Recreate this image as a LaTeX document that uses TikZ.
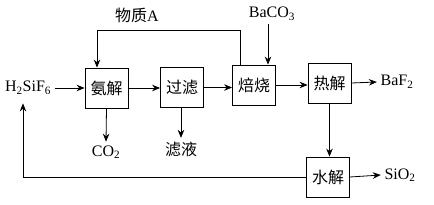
\documentclass[tikz,border=0pt]{standalone}
\usepackage{fontspec}
\setmainfont{Liberation Serif}
\newfontfamily\cjk{Noto Sans CJK SC}
\usetikzlibrary{arrows.meta}
\tikzset{every node/.style={font=\fontsize{16}{18}\selectfont}}
\tikzset{stepbox/.style={draw, minimum width=43pt, minimum height=40pt, inner sep=0pt}}
\colorlet{linecol}{black}

\begin{document}
\begin{tikzpicture}[x=1pt, y=-1pt, >={Stealth[length=8pt,width=6.5pt]}, line width=0.8pt]
  \useasboundingbox (0,0) rectangle (434,204);

  % Process boxes.
  \node[stepbox] (anjie)   at (106.5,88)  {\cjk 氨解};
  \node[stepbox] (guolv)   at (182,87.5)  {\cjk 过滤};
  \node[stepbox] (beishao) at (254,85)    {\cjk 焙烧};
  \node[stepbox] (rejie)   at (329.5,83)  {\cjk 热解};
  \node[stepbox] (shuijie) at (328,177)   {\cjk 水解};

  % Substances.
  \node (h2sif6) at (28,88)   {H\textsubscript{2}SiF\textsubscript{6}};
  \node (wuzhi)  at (137,15)  {\cjk 物质\rmfamily A};
  \node (baco3)  at (272,14)  {BaCO\textsubscript{3}};
  \node (baf2)   at (397,82)  {BaF\textsubscript{2}};
  \node (co2)    at (106,152) {CO\textsubscript{2}};
  \node (lvye)   at (181,149) {\cjk 滤液};
  \node (sio2)   at (400,175) {SiO\textsubscript{2}};

  % Main line.
  \draw[->, linecol] (h2sif6.east |- anjie) -- (anjie.west);
  \draw[->, linecol] (anjie.east) -- (anjie.east -| guolv.west);
  \draw[->, linecol] (guolv.east) -- (guolv.east -| beishao.west);
  \draw[->, linecol] (beishao.east) -- (beishao.east -| rejie.west);
  \draw[->, linecol] (rejie.east) -- (baf2.west);

  % Side streams.
  \draw[->, linecol] (baco3.south -| 268,0) -- (beishao.north -| 268,0);
  \draw[->, linecol] (anjie.south) -- (co2.north);
  \draw[->, linecol] (guolv.south -| lvye) -- (lvye.north);
  \draw[->, linecol] (rejie.south) -- (rejie.south |- shuijie.north);
  \draw[->, linecol] (shuijie.east) -- (sio2.west);

  % Recycle of A.
  \coordinate (retA) at (240,30);
  \coordinate (inA)  at (97,30);
  \draw[->, linecol] (beishao.north -| retA) -- (retA) -- (inA) -- (anjie.north -| inA);

  % Recycle to H2SiF6.
  \coordinate (loop) at (23,177);
  \draw[->, linecol] (shuijie.west) -- (loop) -- ([yshift=-5pt]loop |- h2sif6.south);

\end{tikzpicture}
\end{document}
